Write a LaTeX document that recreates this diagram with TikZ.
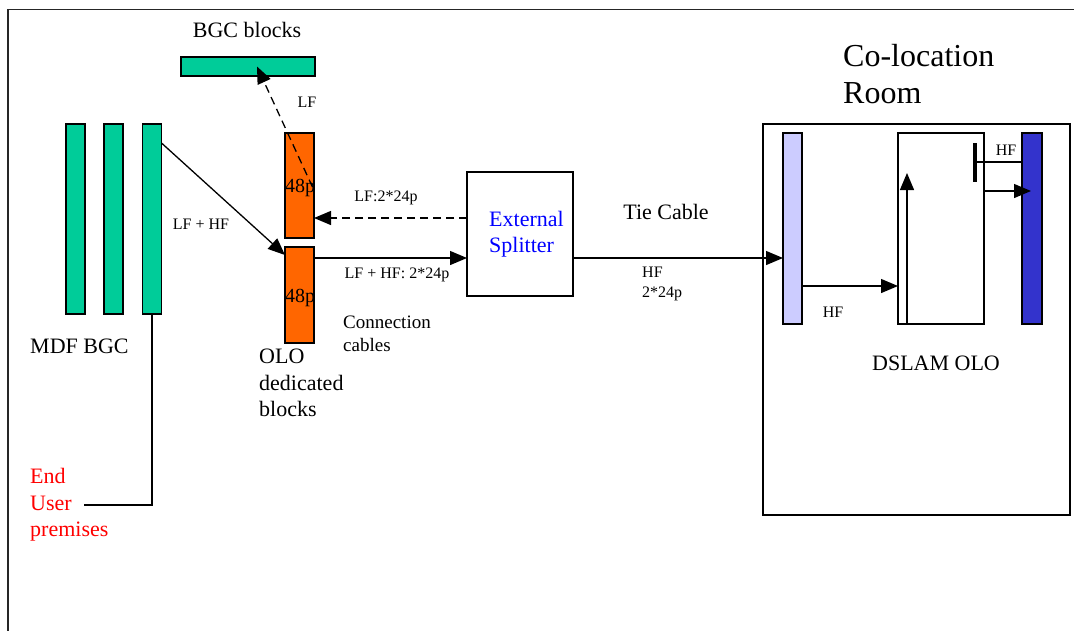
\documentclass[tikz,border=0pt]{standalone}
\usepackage{fontspec}
\setmainfont{Liberation Serif}
\usetikzlibrary{arrows.meta}
\definecolor{mdfgreen}{HTML}{00CC99}
\definecolor{olorange}{HTML}{FF6600}
\definecolor{lightbl}{HTML}{CCCCFF}
\definecolor{darkbl}{HTML}{3333CC}
\definecolor{txtblue}{HTML}{0000FF}
\definecolor{txtred}{HTML}{FF0000}
\tikzset{
  bar/.style={draw=black, line width=1.3pt, inner sep=0pt, outer sep=0pt},
  greenbar/.style={bar, fill=mdfgreen, minimum width=19pt, minimum height=190pt},
  orangebar/.style={bar, fill=olorange, minimum width=29pt},
  plainbox/.style={bar, fill=white},
  conn/.style={line width=1.3pt},
  arr/.style={conn, -{Triangle[length=17pt,width=14pt]}},
  darr/.style={arr, dash pattern=on 8pt off 5pt},
  lbl/.style={inner sep=0pt, font=\fontsize{22}{26.5}\selectfont},
  small/.style={inner sep=0pt, font=\fontsize{16}{20}\selectfont},
  medium/.style={inner sep=0pt, font=\fontsize{19}{23}\selectfont},
  big/.style={inner sep=0pt, font=\fontsize{32}{37}\selectfont},
}
\begin{document}
\begin{tikzpicture}[x=1pt, y=-1pt]
\useasboundingbox (0,0) rectangle (1074,630);
% outer frame (only top and left edges visible)
\draw[line width=1.5pt, black!85] (8,640) -- (8,9.5) -- (1080,9.5);

% MDF BGC bars
\node[greenbar] (m1) at (75.5,219) {};
\node[greenbar] (m2) at (113.5,219) {};
\node[greenbar] (m3) at (152,219) {};
\node[lbl, anchor=west] (mdf) at (30,346) {MDF BGC};

% BGC blocks
\node[bar, fill=mdfgreen, minimum width=134pt, minimum height=19pt] (bgc) at (248,66.5) {};
\node[lbl] (bgct) at (247,30) {BGC blocks};

% OLO dedicated blocks
\node[orangebar, minimum height=105pt] (orT) at (299.5,185.5) {};
\node[orangebar, minimum height=96pt] (orB) at (299.5,295) {};
\node[inner sep=0pt, font=\fontsize{20}{24}\selectfont] (p1) at (300,188) {48p};
\node[inner sep=0pt, font=\fontsize{20}{24}\selectfont] (p2) at (300,298) {48p};
\node[lbl, anchor=west, align=left] (olo) at (259,383) {OLO\\dedicated\\blocks};

% External splitter
\node[plainbox, minimum width=106pt, minimum height=124pt] (sp) at (520,234) {};
\node[lbl, anchor=west, align=left, text=txtblue] (spt) at (489,234) {External\\Splitter};

% Co-location room
\node[plainbox, minimum width=307pt, minimum height=391pt] (room) at (916.5,319.5) {};
\node[big, anchor=west, align=left] (roomt) at (843,74.5) {Co-location\\Room};
\node[bar, fill=lightbl, minimum width=19pt, minimum height=191pt] (lb) at (792.5,228.5) {};
\node[plainbox, minimum width=86pt, minimum height=191pt] (wb) at (941,228.5) {};
\node[bar, fill=darkbl, minimum width=20pt, minimum height=191pt] (db) at (1032,228.5) {};
\node[lbl] (dslam) at (936,363) {DSLAM OLO};

% End user
\node[lbl, anchor=west, align=left, text=txtred] (eu) at (30,505) {End\\User\\premises};
\coordinate (euEnd) at (84,505);
\draw[conn] (m3.south) |- (euEnd);

% MDF -> OLO bottom
\draw[arr] ([yshift=-19pt]m3.north east) -- ([yshift=-8pt]orB.north west);
\node[small] (lfhf) at (201,224) {LF + HF};

% OLO top -> BGC blocks (dashed)
\draw[darr] ([xshift=-1.5pt,yshift=-1.5pt]orT.east) -- ([xshift=9pt]bgc.center);
\node[small] (lf) at (307,102) {LF};

% splitter -> OLO top (dashed)
\coordinate (spL) at ([yshift=16pt]sp.west);
\draw[darr] (spL) -- (spL -| orT.east);
\node[small] (lf2) at (386,198) {LF:2*24p};

% OLO bottom -> splitter
\coordinate (orR) at ([yshift=-11pt]orB.north east);
\draw[arr] (orR) -- (orR -| sp.west);
\node[small] (lfhf2) at (397,275) {LF + HF: 2*24p};
\node[medium, anchor=west, align=left] (cc) at (343,333.5) {Connection\\cables};

% Tie cable
\coordinate (tieS) at ([yshift=-24pt]sp.east);
\draw[arr] (tieS) -- (tieS -| lb.west);
\node[lbl] (tie) at (666,212) {Tie Cable};
\node[small, anchor=west, align=left] (hf24) at (642,283.5) {HF\\2*24p};

% inside DSLAM
\coordinate (lbR) at ([yshift=-153pt]lb.north east);
\draw[arr] (lbR) -- (lbR -| wb.west);
\node[small] (hf1) at (833,312) {HF};
\draw[arr] ([xshift=9pt]wb.south west) -- ([xshift=9pt,yshift=-40pt]wb.north west);
\coordinate (fT) at ([xshift=-9pt,yshift=-10pt]wb.north east);
\coordinate (fB) at ([xshift=-9pt,yshift=-49pt]wb.north east);
\draw[line width=3.5pt] (fT) -- (fB);
\coordinate (fM) at ([xshift=-9pt,yshift=-29pt]wb.north east);
\draw[conn] (fM) -- (fM -| db.west);
\node[small] (hf2) at (1006,150) {HF};
\coordinate (wbR) at ([yshift=-58pt]wb.north east);
\draw[arr] (wbR) -- ([xshift=9pt]wbR -| db.west);
\end{tikzpicture}
\end{document}
